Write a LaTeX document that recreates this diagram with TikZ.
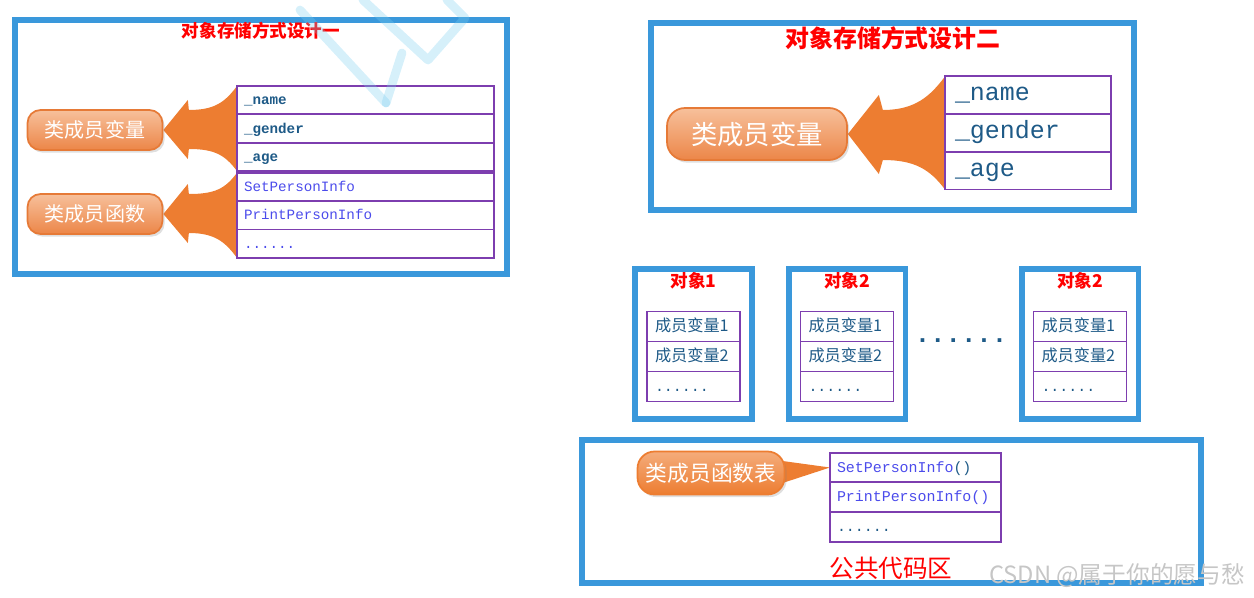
\documentclass[tikz,border=0pt]{standalone}
\usepackage{fontspec}
\setmainfont{Liberation Serif}
\setmonofont{Liberation Mono}
\newfontfamily\cjk{Noto Sans CJK SC}
\usepackage{tikz}
\usetikzlibrary{positioning, calc, shadows}
\pgfdeclarelayer{background}
\pgfsetlayers{background,main}
\definecolor{frameblue}{RGB}{58,152,219}
\definecolor{cellpurple}{RGB}{125,62,175}
\definecolor{fieldblue}{RGB}{30,90,135}
\definecolor{funcblue}{RGB}{75,75,235}
\definecolor{arroworange}{RGB}{237,125,49}
\definecolor{pilltop}{RGB}{247,192,155}
\definecolor{pillbot}{RGB}{236,134,72}
\definecolor{pillline}{RGB}{230,122,55}
\definecolor{wmarkcyan}{RGB}{120,205,240}
\tikzset{
	bluebox/.style={draw=frameblue, line width=3.4pt, inner sep=0pt},
	boxtitle/.style={text=red, inner sep=0pt, font=\cjk\bfseries},
	cell/.style={draw=cellpurple, line width=1.1pt, align=left, inner ysep=0pt, outer sep=0pt, text height=1.6ex, text depth=0.45ex},
	field1/.style={cell, text width=4.86cm, inner xsep=0.14cm, minimum height=0.567cm, text=fieldblue, font=\ttfamily\bfseries\fontsize{8.1}{10}\selectfont},
	func1/.style={field1, text=funcblue, font=\ttfamily\fontsize{8.1}{10}\selectfont},
	field2/.style={cell, text width=2.92cm, inner xsep=0.2cm, minimum height=0.754cm, text height=1.85ex, text=fieldblue, font=\ttfamily\fontsize{14.2}{16}\selectfont},
	member/.style={cell, text width=1.54cm, inner xsep=0.16cm, minimum height=0.6cm, text=fieldblue, font=\cjk\fontsize{9.2}{11}\selectfont},
	func3/.style={cell, text width=3.14cm, inner xsep=0.14cm, minimum height=0.594cm, text=funcblue, font=\ttfamily\fontsize{8.5}{10}\selectfont},
	pill/.style={draw=pillline, line width=1pt, top color=pilltop, bottom color=pillbot, text=white, inner sep=0pt, drop shadow={shadow xshift=1.2pt, shadow yshift=-1.5pt, opacity=0.25}},
	tagpill/.style={pill, draw=arroworange, top color=pilltop!70!arroworange, bottom color=arroworange},
	bigarrow/.style={fill=arroworange},
	wmark/.style={draw=wmarkcyan, line width=5pt, opacity=0.3, line cap=round, line join=round},
	csdn/.style={text=gray!45, font=\cjk\fontsize{13.5}{15}\selectfont, inner sep=0pt}
}
\begin{document}
\begin{tikzpicture}[x=0.02cm, y=-0.02cm]
	\useasboundingbox (0,0) rectangle (1254,598);

	% design one
	\node[bluebox, minimum width=9.84cm, minimum height=5.08cm] (box1) at (261,147) {};
	\node[boxtitle, font=\cjk\bfseries\fontsize{10}{12}\selectfont] (title1) at (261,31) {对象存储方式设计一};
	\node[field1] (name1) at (365.5,100.2) {\_name};
	\node[field1, below=0pt of name1] (gender1) {\_gender};
	\node[field1, below=0pt of gender1] (age1) {\_age};
	\node[func1, below=1pt of age1] (set1) {SetPersonInfo};
	\node[func1, below=0pt of set1] (print1) {PrintPersonInfo};
	\node[func1, below=0pt of print1] (more1) {......};
	\node[pill, rounded corners=0.26cm, minimum width=2.7cm, minimum height=0.8cm, font=\cjk\fontsize{11.4}{13}\selectfont] (vars1) at (95,130) {类成员变量};
	\node[pill, rounded corners=0.26cm, minimum width=2.7cm, minimum height=0.8cm, font=\cjk\fontsize{11.4}{13}\selectfont] (funcs1) at (95,214) {类成员函数};
	\begin{pgfonlayer}{background}
		\fill[bigarrow] (name1.north west) .. controls +(-12,16) and +(26,0) .. ($(vars1.east)+(25.5,-20)$)
			-- ($(vars1.east)+(24.5,-30)$) -- (vars1.east) -- ($(vars1.east)+(24.5,29)$) -- ($(vars1.east)+(25.5,19)$)
			.. controls +(26,0) and +(-12,-16) .. (age1.south west) -- cycle;
		\fill[bigarrow] (set1.north west) .. controls +(-12,16) and +(26,0) .. ($(funcs1.east)+(25.5,-20)$)
			-- ($(funcs1.east)+(24.5,-30)$) -- (funcs1.east) -- ($(funcs1.east)+(24.5,29)$) -- ($(funcs1.east)+(25.5,19)$)
			.. controls +(26,0) and +(-12,-16) .. (more1.south west) -- cycle;
	\end{pgfonlayer}

	% design two
	\node[bluebox, minimum width=9.66cm, minimum height=3.74cm] (box2) at (892.5,116.5) {};
	\node[boxtitle, font=\cjk\bfseries\fontsize{13.6}{15}\selectfont] (title2) at (893,38) {对象存储方式设计二};
	\node[field2] (name2) at (1028,95.3) {\_name};
	\node[field2, below=0pt of name2] (gender2) {\_gender};
	\node[field2, below=0pt of gender2] (age2) {\_age};
	\node[pill, rounded corners=0.36cm, minimum width=3.6cm, minimum height=1.04cm, font=\cjk\fontsize{15}{17}\selectfont] (vars2) at (757,134) {类成员变量};
	\begin{pgfonlayer}{background}
		\fill[bigarrow] (name2.north west) .. controls +(-15,20) and +(32,0) .. ($(vars2.east)+(35,-24)$)
			-- ($(vars2.east)+(31,-39)$) -- (vars2.east) -- ($(vars2.east)+(31,40)$) -- ($(vars2.east)+(35,26)$)
			.. controls +(32,0) and +(-15,-20) .. (age2.south west) -- cycle;
	\end{pgfonlayer}

	% objects
	\foreach \x/\num/\id in {693.5/1/A, 847/2/B, 1080/2/C} {
		\node[bluebox, minimum width=2.34cm, minimum height=3cm] (obj\id) at (\x,344) {};
		\node[boxtitle, font=\cjk\bfseries\fontsize{10}{12}\selectfont] (obj\id title) at (\x,281) {对象\num};
		\node[member] (obj\id m1) at (\x,326.5) {成员变量1};
		\node[member, below=0pt of obj\id m1] (obj\id m2) {成员变量2};
		\node[member, below=0pt of obj\id m2, font=\ttfamily\fontsize{8.5}{10}\selectfont] (obj\id m3) {......};
	}
	\node[text=fieldblue, font=\ttfamily\bfseries\fontsize{14.6}{15}\selectfont, inner sep=0pt] (gap) at (961,341) {......};

	% shared code area
	\node[bluebox, minimum width=12.38cm, minimum height=2.86cm] (shared) at (891.5,511.5) {};
	\node[func3] (set3) at (915.5,467.5) {SetPersonInfo\textcolor{fieldblue}{()}};
	\node[func3, below=0pt of set3] (print3) {PrintPersonInfo()};
	\node[func3, below=0pt of print3, text=fieldblue] (more3) {......};
	\node[tagpill, rounded corners=0.34cm, minimum width=2.94cm, minimum height=0.86cm, font=\cjk\fontsize{12.4}{14}\selectfont] (functable) at (711,473) {类成员函数表};
	\begin{pgfonlayer}{background}
		\fill[arroworange] ($(functable.east)+(-10,-13)$) -- (set3.west) -- ($(functable.east)+(-12,13)$) -- cycle;
	\end{pgfonlayer}
	\node[boxtitle, font=\cjk\fontsize{14}{16}\selectfont] (sharedlabel) at (891,568) {公共代码区};

	% watermark
	\draw[wmark] (300,10) -- (386,103);
	\draw[wmark] (363,0) -- (428,60) -- (465,18) -- (447,0);
	\draw[wmark] (402,53) -- (386,103);
	\node[csdn] (csdnmark) at (1117,576) {CSDN @属于你的愿与愁};
\end{tikzpicture}
\end{document}
